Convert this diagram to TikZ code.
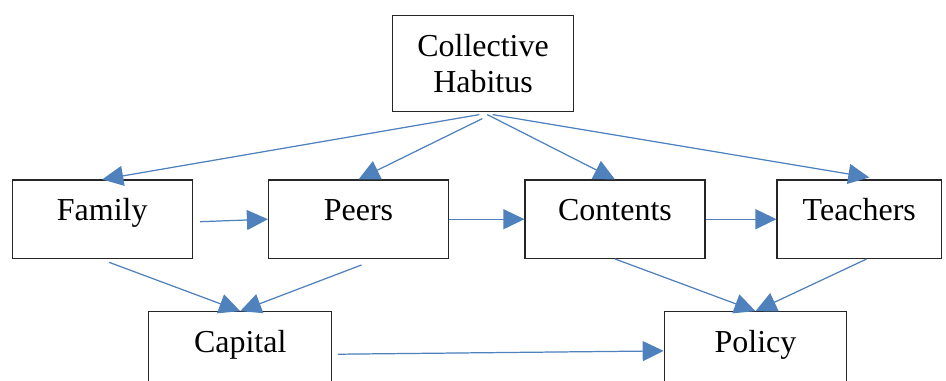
\documentclass[tikz,border=0pt]{standalone}
\usepackage{fontspec}
\setmainfont{Liberation Serif}
\usepackage{xcolor}
\usepackage{tikz}
\usetikzlibrary{arrows.meta,calc}
\definecolor{arrblue}{HTML}{4F81BD}
\begin{document}
\begin{tikzpicture}[
    x=0.02cm, y=-0.02cm,
    base/.style={draw=black!85, line width=0.7pt, fill=white, inner sep=0pt, font=\fontsize{18.2}{20.5}\selectfont},
    box/.style={base, minimum width=3.6cm, minimum height=1.566cm, text height=0.5cm, text depth=0.43cm},
    topbox/.style={base, align=center, minimum width=3.61cm, minimum height=1.92cm},
    arr/.style={-{Triangle[length=0.42cm, width=0.4cm]}, draw=arrblue, fill=arrblue, line width=0.7pt}
]
\path[use as bounding box, clip] (0,0) rectangle (946,380);

\node[topbox] (habitus) at (483,63.7) {Collective\\Habitus};
\node[box] (family) at (102.2,219.2) {Family};
\node[box] (peers) at (358.5,219.2) {Peers};
\node[box] (contents) at (615,219.2) {Contents};
\node[box, minimum width=3.29cm] (teachers) at (859.3,219.2) {Teachers};
\node[box, minimum width=3.66cm] (capital) at (240.2,350.9) {Capital};
\node[box, minimum width=3.65cm] (policy) at (755.5,350.9) {Policy};

\draw[arr] ($(habitus.south)+(-3.7,2.3)$) -- (family.north);
\draw[arr] ($(habitus.south)+(-0.7,6.3)$) -- (peers.north);
\draw[arr] ($(habitus.south)+(4.3,2.3)$) -- (contents.north);
\draw[arr] ($(habitus.south)+(9.7,2.3)$) -- ($(teachers.north)+(10,-2)$);
\draw[arr] ($(family.east)+(7.3,2.5)$) -- (peers.west);
\draw[arr] (peers.east) -- (contents.west);
\draw[arr] (contents.east) -- (teachers.west);
\draw[arr] ($(family.south)+(7,3.4)$) -- (capital.north);
\draw[arr] ($(peers.south)+(3,6)$) -- (capital.north);
\draw[arr] (contents.south) -- (policy.north);
\draw[arr] ($(teachers.south)+(7.4,0)$) -- (policy.north);
\draw[arr] ($(capital.east)+(5.6,3.3)$) -- (policy.west);
\end{tikzpicture}
\end{document}
